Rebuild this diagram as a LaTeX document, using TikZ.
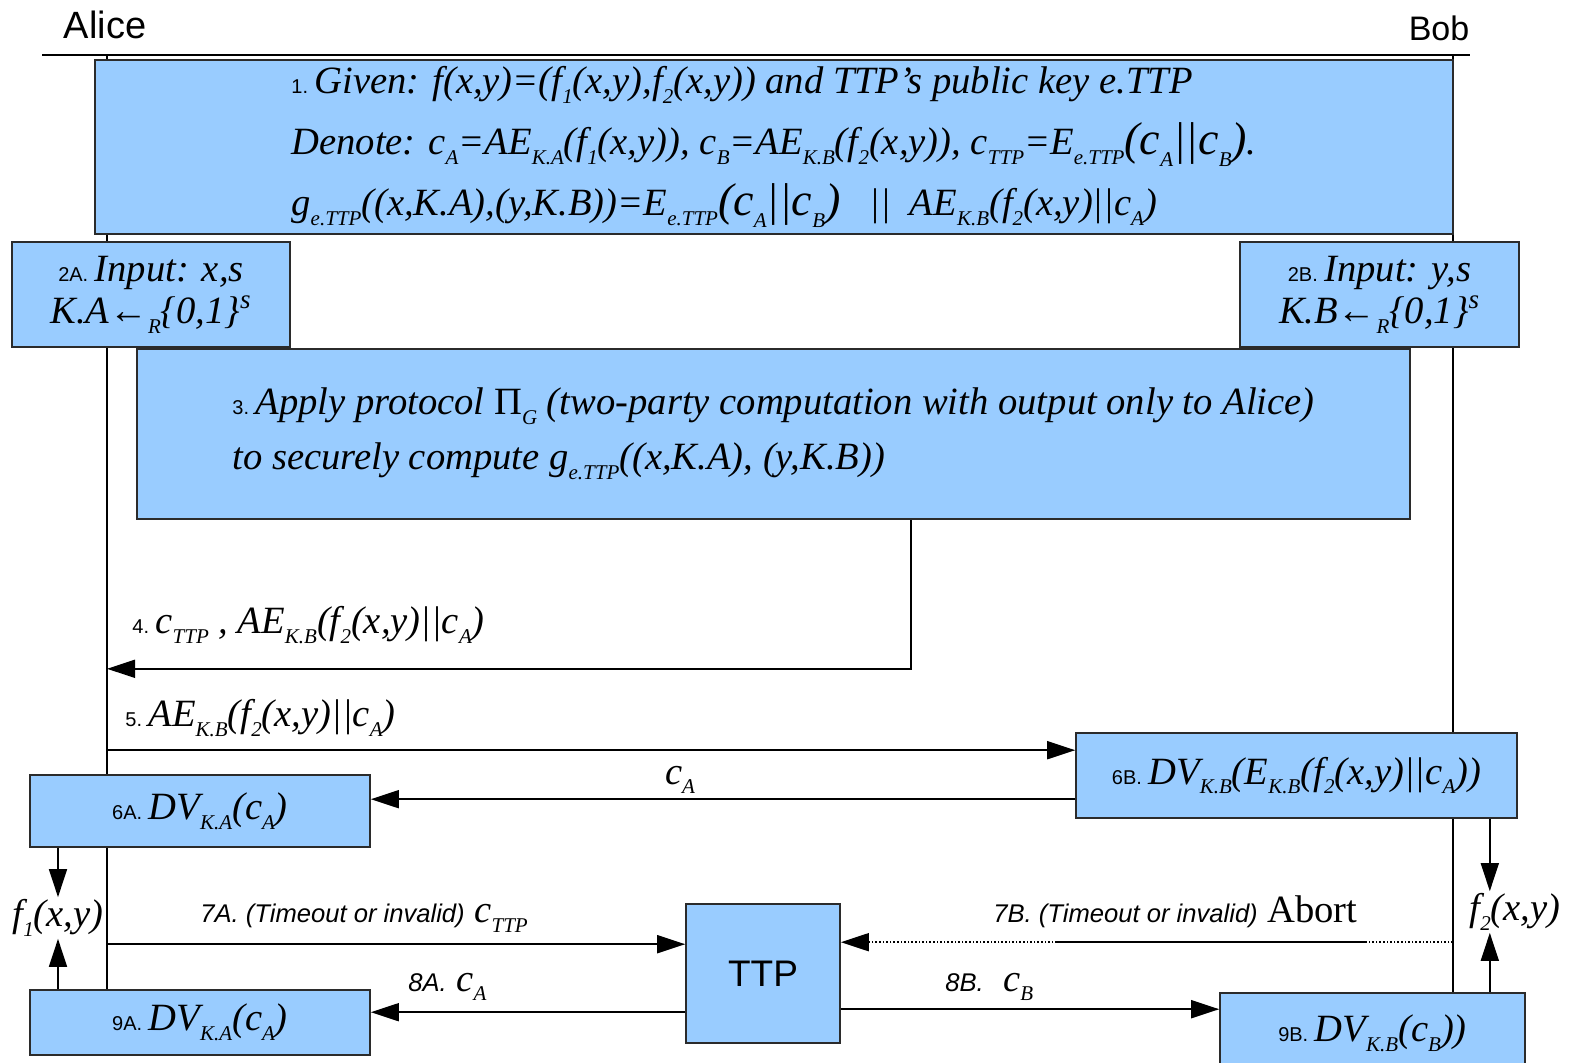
\documentclass[tikz,border=0pt]{standalone}
\usepackage{fontspec}
\setmainfont{Liberation Serif}
\setsansfont{Liberation Sans}
\usetikzlibrary{arrows.meta, positioning, calc, backgrounds}
\definecolor{BoxBlue}{HTML}{99CCFF}
\definecolor{EdgeGray}{HTML}{2B2B2B}
\newcommand{\stepno}[1]{{\upshape\sffamily\fontsize{10}{11}\selectfont #1}\,}
\newcommand{\sbs}[1]{\raisebox{-0.55ex}{\fontsize{10.5}{11}\selectfont #1}}
\newcommand{\sfit}[1]{{\sffamily\itshape\fontsize{12.8}{14}\selectfont #1}}
\newcommand{\bigpair}{{\fontsize{23}{24}\selectfont (c\sbs{A}||c\sbs{B})}}

\begin{document}
\begin{tikzpicture}[x=0.5pt, y=-0.5pt,
    box/.style={draw=EdgeGray, fill=BoxBlue, line width=0.8pt, inner sep=0pt,
                font=\itshape\fontsize{19.3}{21}\selectfont},
    arrow/.style={-{Triangle[length=14pt,width=9pt]}, line width=0.8pt},
    dotarrow/.style={arrow, densely dotted},
    msglabel/.style={font=\itshape\fontsize{19.3}{21}\selectfont, inner sep=1pt},
    party/.style={font=\sffamily\fontsize{19}{22}\selectfont}
  ]
    \useasboundingbox (0,0) rectangle (1572,1063);

    % Parties
    \node[party] (alice) at (105,25) {Alice};
    \node[party, font=\sffamily\fontsize{17}{20}\selectfont] (bob) at (1439,28) {Bob};
    \coordinate (ruleL) at (42,55);
    \coordinate (ruleR) at (1470,55);
    \coordinate (aliceTop) at (107,55);
    \coordinate (bobTop) at (1453,55);
    \draw[line width=0.8pt] (ruleL) -- (ruleR);

    % Setup and input
    \node[box, minimum width=679pt, minimum height=87pt, align=left,
          font=\itshape\fontsize{19.3}{30.5}\selectfont] (setup) at (774,147)
      {\stepno{1.}Given: f(x,y)=(f\sbs{1}(x,y),f\sbs{2}(x,y)) and TTP's public key e.TTP\\
       Denote: c\sbs{A}=AE\sbs{K.A}(f\sbs{1}(x,y)), c\sbs{B}=AE\sbs{K.B}(f\sbs{2}(x,y)), c\sbs{TTP}=E\sbs{e.TTP}\bigpair.\\
       g\sbs{e.TTP}((x,K.A),(y,K.B))=E\sbs{e.TTP}\bigpair~~~||~~AE\sbs{K.B}(f\sbs{2}(x,y)||c\sbs{A})};
    \node[box, minimum width=139pt, minimum height=52.5pt, align=center] (inA) at (151,294.5)
      {\stepno{2A.}Input: x,s\\K.A←\sbs{R}\{0,1\}\textsuperscript{s}};
    \node[box, minimum width=139.5pt, minimum height=52.5pt, align=center] (inB) at (1379.5,294.5)
      {\stepno{2B.}Input: y,s\\K.B←\sbs{R}\{0,1\}\textsuperscript{s}};

    % Two-party computation
    \node[box, minimum width=636.5pt, minimum height=85pt, align=left,
          font=\itshape\fontsize{19.3}{27.5}\selectfont] (mpc) at (773.5,434)
      {\stepno{3.}Apply protocol {\upshape Π}\sbs{G} (two-party computation with output only to Alice)\\
       to securely compute g\sbs{e.TTP}((x,K.A), (y,K.B))};

    % Verification
    \node[box, minimum width=220.5pt, minimum height=42.5pt] (verB) at (1296.5,775.5)
      {\stepno{6B.}DV\sbs{K.B}(E\sbs{K.B}(f\sbs{2}(x,y)||c\sbs{A}))};
    \node[box, minimum width=170pt, minimum height=36pt] (verA) at (200,811)
      {\stepno{6A.}DV\sbs{K.A}(c\sbs{A})};

    % Trusted third party
    \node[box, minimum width=77pt, minimum height=69.5pt,
          font=\upshape\sffamily\fontsize{18.5}{22}\selectfont] (ttp) at (763,973.5) {TTP};
    \node[box, minimum width=170pt, minimum height=32.5pt] (recA) at (200,1022.5)
      {\stepno{9A.}DV\sbs{K.A}(c\sbs{A})};
    \node[box, minimum width=152.5pt, minimum height=40pt] (recB) at (1372.5,1033)
      {\stepno{9B.}DV\sbs{K.B}(c\sbs{B}))};

    % Outputs
    \node[msglabel] (outA) at (58,918) {f\sbs{1}(x,y)};
    \node[msglabel] (outB) at (1515,912) {f\sbs{2}(x,y)};

    % Lifelines
    \begin{scope}[on background layer]
      \draw[line width=0.8pt] (aliceTop) -- (aliceTop |- recA.north);
      \draw[line width=0.8pt] (bobTop) -- (bobTop |- recB.north);
    \end{scope}

    % Messages
    \coordinate (m4) at ($(mpc.south west)+(775,0)$);
    \draw[arrow] (m4) -- ++(0,149) coordinate (m4c) -- (m4c -| aliceTop);
    \node[msglabel, anchor=west] (lbl4) at (130,625)
      {\stepno{4.}c\sbs{TTP} , AE\sbs{K.B}(f\sbs{2}(x,y)||c\sbs{A})};

    \coordinate (m5) at ($(verB.north west)+(0,18)$);
    \draw[arrow] (m5 -| aliceTop) -- (m5);
    \node[msglabel, anchor=west] (lbl5) at (123,718)
      {\stepno{5.}AE\sbs{K.B}(f\sbs{2}(x,y)||c\sbs{A})};

    \coordinate (mca) at ($(verB.north west)+(0,67)$);
    \draw[arrow] (mca) -- (mca -| verA.east);
    \node[msglabel] (lblca) at (680,780) {c\sbs{A}};

    \draw[arrow] (verA.south -| outA) -- (outA.north);
    \draw[arrow] (recA.north -| outA) -- (outA.south);

    \coordinate (m7a) at ($(ttp.north west)+(0,41)$);
    \draw[arrow] (m7a -| aliceTop) -- (m7a);
    \node[msglabel, anchor=west] (lbl7a) at (198,918) {\sfit{7A. (Timeout or invalid)} c\sbs{TTP}};

    \coordinate (m8a) at ($(ttp.north west)+(0,109)$);
    \draw[arrow] (m8a) -- (m8a -| recA.east);
    \node[msglabel, anchor=west] (lbl8a) at (406,987) {\sfit{8A.} c\sbs{A}};

    \coordinate (m7b) at ($(ttp.north east)+(0,39)$);
    \draw[dotarrow] (m7b -| bobTop) -- (m7b);
    \draw[line width=0.8pt] ($(m7b)+(215,0)$) -- ($(m7b)+(525,0)$);
    \node[msglabel, anchor=west] (lbl7b) at (991,912) {\sfit{7B. (Timeout or invalid)} {\upshape Abort}};

    \coordinate (m8b) at ($(ttp.north east)+(0,106)$);
    \draw[arrow] (m8b) -- (m8b -| recB.west);
    \node[msglabel, anchor=west] (lbl8b) at (943,987) {\sfit{8B.}~~c\sbs{B}};

    \coordinate (fB1) at ($(verB.south east)+(-28,0)$);
    \draw[arrow] (fB1) -- (fB1 |- outB.north);
    \coordinate (fB2) at ($(recB.north east)+(-36,0)$);
    \draw[arrow] (fB2) -- (fB2 |- outB.south);

  \end{tikzpicture}
\end{document}
